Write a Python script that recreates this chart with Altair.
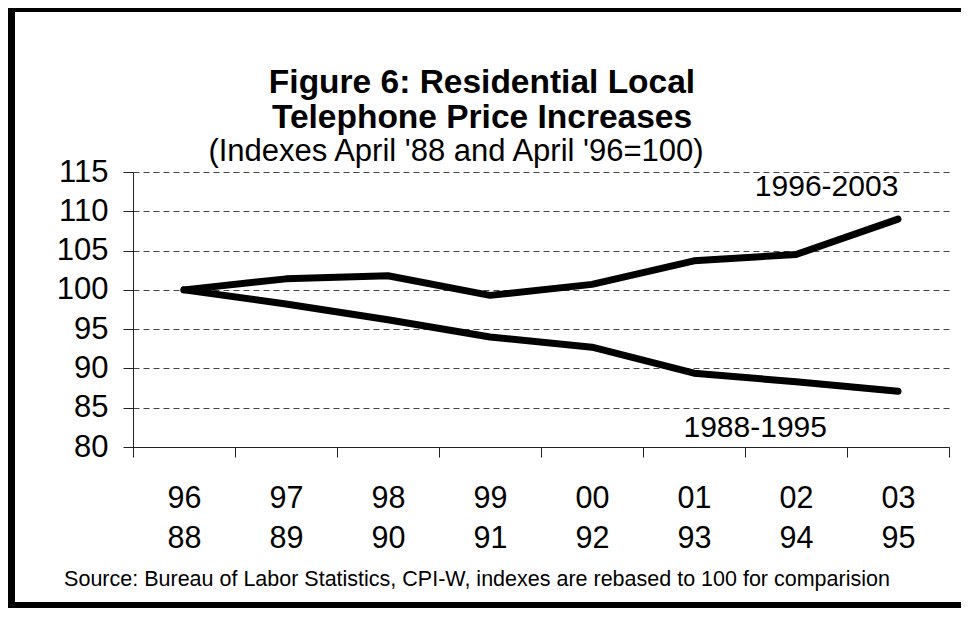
import altair as alt
import pandas as pd

# ---- data ----
years_new = ["96", "97", "98", "99", "00", "01", "02", "03"]
years_old = ["88", "89", "90", "91", "92", "93", "94", "95"]
series_names = ["1996-2003", "1988-1995"]
values_new = [100.0, 101.4, 101.8, 99.3, 100.7, 103.7, 104.5, 109.0]
values_old = [100.0, 98.2, 96.2, 94.0, 92.7, 89.4, 88.3, 87.1]
y_ticks = [80, 85, 90, 95, 100, 105, 110, 115]

title_lines = ["Figure 6: Residential Local", "Telephone Price Increases"]
subtitle = "(Indexes April '88 and April '96=100)"
source = "Source: Bureau of Labor Statistics, CPI-W, indexes are rebased to 100 for comparision"

# series label anchors (category, band position, value at baseline)
label_period = ["02|94", "02|94"]
label_band = [0.8, 0.1]
label_value = [112.0, 81.3]

cats = [f"{a}|{b}" for a, b in zip(years_new, years_old)]
rows = []
for c, v in zip(cats, values_new):
    rows.append({"period": c, "index": v, "series": series_names[0]})
for c, v in zip(cats, values_old):
    rows.append({"period": c, "index": v, "series": series_names[1]})
df = pd.DataFrame(rows)

FONT = "Liberation Sans"
W, H = 816, 275
PAD_L, PAD_T = 125, 164
TOTAL_W, TOTAL_H = 953, 600
OX, OY = 133, 172  # page position of plot origin

xscale = alt.Scale(type="band", domain=cats, paddingInner=0, paddingOuter=0)
yscale = alt.Scale(domain=[80, 115], nice=False, zero=False)

x_axis = alt.Axis(
    title=None,
    labelExpr="datum.value ? split(datum.value, '|') : ''",
    labelAngle=0,
    tickBand="extent",
    tickSize=10,
    labelPadding=26,
    labelFontSize=30.5,
    labelLineHeight=40,
    labelFont=FONT,
    labelColor="black",
    labelOverlap=False,
    domainColor="#222222",
    tickColor="#222222",
    grid=False,
)
y_axis = alt.Axis(
    title=None,
    values=y_ticks,
    tickSize=10,
    labelPadding=15,
    labelFontSize=31,
    labelFont=FONT,
    labelColor="black",
    labelOverlap=False,
    labelBound=False,
    domainColor="#222222",
    tickColor="#222222",
    grid=True,
    gridColor="#444444",
    gridDash=[6, 4],
    gridWidth=1,
)

lines = alt.Chart(df).mark_line(
    color="black", strokeWidth=7, strokeCap="round", strokeJoin="round"
).encode(
    x=alt.X("period:N", scale=xscale, bandPosition=0.5, axis=x_axis),
    y=alt.Y("index:Q", scale=yscale, axis=y_axis),
    detail="series:N",
)

label_layers = []
for name, per, bp, val in zip(series_names, label_period, label_band, label_value):
    ldf = pd.DataFrame({"period": [per], "index": [val], "label": [name]})
    label_layers.append(
        alt.Chart(ldf).mark_text(
            font=FONT, fontSize=30, color="black", align="center", baseline="alphabetic"
        ).encode(
            x=alt.X("period:N", scale=xscale, bandPosition=bp, axis=x_axis),
            y=alt.Y("index:Q", scale=yscale, axis=y_axis),
            text="label:N",
        )
    )

one = pd.DataFrame({"k": [0]})
title_mark = alt.Chart(one).mark_text(
    text=title_lines, font=FONT, fontSize=33.5, fontWeight="bold", color="black",
    align="center", baseline="alphabetic", lineHeight=34.5,
).encode(x=alt.value(482 - OX), y=alt.value(93 - OY))

subtitle_mark = alt.Chart(one).mark_text(
    text=subtitle, font=FONT, fontSize=31, color="black",
    align="center", baseline="alphabetic",
).encode(x=alt.value(456 - OX), y=alt.value(161 - OY))

source_mark = alt.Chart(one).mark_text(
    text=source, font=FONT, fontSize=21.5, color="black",
    align="center", baseline="alphabetic",
).encode(x=alt.value(477 - OX), y=alt.value(586 - OY))

# frame bars: left, top, bottom (the reference's right edge lies outside the picture)
R = 8 + TOTAL_W
frame_x = [8 - OX, 8 - OX, 8 - OX]
frame_x2 = [15 - OX, R - OX, R - OX]
frame_y = [8 - OY, 8 - OY, 8 + TOTAL_H - 6 - OY]
frame_y2 = [8 + TOTAL_H - OY, 12 - OY, 8 + TOTAL_H - OY]
frame_layers = [
    alt.Chart(one).mark_rect(color="black").encode(
        x=alt.value(a), x2=alt.value(b), y=alt.value(c), y2=alt.value(d)
    )
    for a, b, c, d in zip(frame_x, frame_x2, frame_y, frame_y2)
]

chart = alt.layer(
    lines, *label_layers, title_mark, subtitle_mark, source_mark, *frame_layers
).properties(
    width=W,
    height=H,
    padding={"left": PAD_L, "top": PAD_T, "right": TOTAL_W - PAD_L - W, "bottom": TOTAL_H - PAD_T - H},
    autosize=alt.AutoSizeParams(type="none"),
    background="white",
).configure_view(stroke=None)

chart.save("out.html", embed_options={"renderer": "svg", "actions": False})
